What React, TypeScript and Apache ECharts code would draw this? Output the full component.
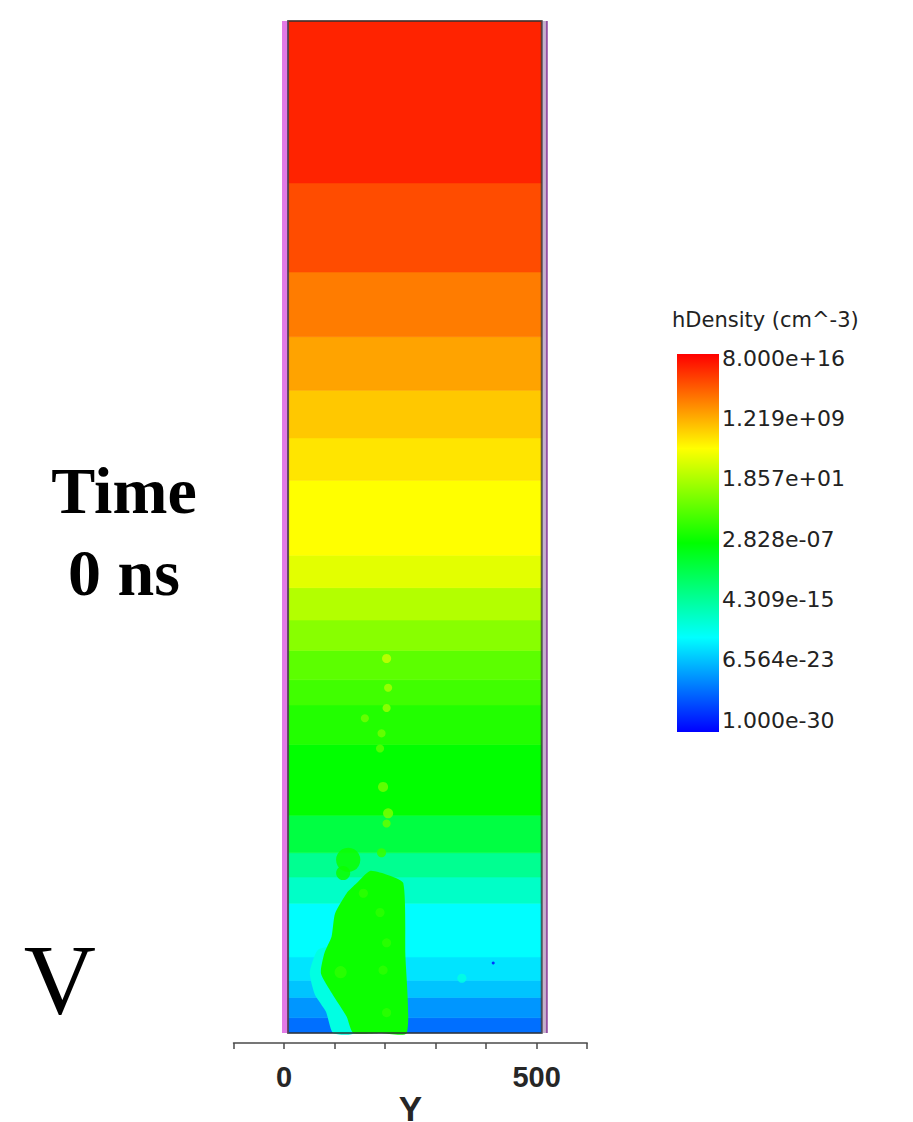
import React, { useEffect, useRef } from 'react';
import * as echarts from 'echarts';

// ---- axis / legend labels ----
const X_LABELED_TICKS = [0, 500];
const COLORBAR_LABELS = ['1.000e-30', '6.564e-23', '4.309e-15', '2.828e-07', '1.857e+01', '1.219e+09', '8.000e+16'];
const LOG_MIN = -30; // log10(1e-30)
const LOG_MAX = 16.903; // log10(8e16)
const COLOR_STOPS = ['#0000ff', '#00ffff', '#00ff00', '#ffff00', '#ff0000'];

// ---- horizontal layers of hole density (bottom -> top) ----
const BAND_EDGES = [0, 15, 35, 52, 75, 128, 154, 178, 215, 285, 324, 349, 378, 408, 440, 472, 546, 588, 635, 688, 752, 840, 1000];
const BAND_LOG_DENSITY = [-24.9, -23.1, -21.0, -19.5, -18.3, -15.7, -13.2, -9.6, -6.5, -5.0, -3.6, -2.3, -0.3, 1.7, 3.9, 5.2, 6.35, 7.7, 9.4, 11.2, 13.4, 15.3];

// ---- plume regions (polygons in data units) ----
const PLUME_HALO = [[97, 0], [83, 21], [61, 38], [51, 60], [67, 82], [101, 84], [131, 33], [140, 0]];
const PLUME_CORE = [[144, 148], [170, 160], [205, 156], [236, 148], [240, 79], [243, 0], [190, 0], [137, 0], [124, 16], [95, 39], [73, 59], [80, 79], [94, 95], [101, 118], [124, 138]];
const PLUME_SHAPES = [PLUME_HALO, PLUME_CORE];
const PLUME_LOG_DENSITY = [-17, -6.0];

// ---- spots ----
const SPOT_X = [127, 117, 203, 206, 203, 160, 193, 190, 196, 206, 203, 193, 157, 190, 203, 196, 203, 112, 352, 414];
const SPOT_Y = [171, 158, 370, 341, 321, 311, 296, 281, 243, 217, 207, 178, 138, 119, 89, 62, 20, 60, 54, 69];
const SPOT_R = [24, 14, 9, 8, 8, 8, 8, 8, 10, 10, 8, 9, 9, 9, 9, 9, 9, 12, 9, 3];
const SPOT_LOG_DENSITY = [-6, -6, 2.5, 1.0, 0.5, -1.5, -1.5, -2.5, -1.5, -1.0, -2, -4, -4.5, -4.5, -4.5, -4.5, -4.5, -4.5, -17.0, -29];

// ---- device structure ----
const DOMAIN_X = [8, 510];
const DOMAIN_Y = [0, 1000];
const REGION_X0 = [-4, 510, 518];
const REGION_X1 = [9, 518, 522];
const REGION_FILL = ['#e27ae6', '#c4b0cc', '#9350a3'];

export default function App() {
  const ref = useRef<HTMLDivElement>(null);

  useEffect(() => {
    if (!ref.current) return;
    const chart = echarts.init(ref.current, undefined, { renderer: 'svg' });

    const bandData = BAND_LOG_DENSITY.map((v, i) => [BAND_EDGES[i], BAND_EDGES[i + 1], v]);
    const plumeData = PLUME_LOG_DENSITY.map((v, i) => [i, 0, v]);
    const spotData = SPOT_X.map((x, i) => [x, SPOT_Y[i], SPOT_LOG_DENSITY[i], SPOT_R[i]]);
    const regionData = REGION_X0.map((x0, i) => [x0, REGION_X1[i]]);

    const option: any = {
      animation: false,
      backgroundColor: '#ffffff',
      visualMap: {
        type: 'continuous',
        show: false,
        min: LOG_MIN,
        max: LOG_MAX,
        dimension: 2,
        seriesIndex: [0, 1, 2],
        inRange: { color: COLOR_STOPS },
      },
      grid: [
        { left: 233.5, top: 21, width: 353.7, height: 1022, containLabel: false, outerBoundsMode: 'none' },
        { left: 677, top: 358, width: 42, height: 362, containLabel: false, outerBoundsMode: 'none' },
      ],
      xAxis: [
        {
          gridIndex: 0,
          type: 'value',
          min: -100,
          max: 600,
          interval: 100,
          splitLine: { show: false },
          axisLine: { show: true, onZero: false, lineStyle: { color: '#4a4a4a', width: 1.5 } },
          axisTick: { show: true, length: 6, lineStyle: { color: '#4a4a4a', width: 1.5 } },
          axisLabel: {
            margin: 19,
            fontFamily: 'Liberation Sans',
            fontWeight: 'bold',
            fontSize: 29,
            color: '#262626',
            formatter: (v: number) => (X_LABELED_TICKS.includes(v) ? String(v) : ''),
          },
          name: 'Y',
          nameLocation: 'middle',
          nameGap: 48,
          nameMoveOverlap: false,
          nameTextStyle: { fontFamily: 'Liberation Sans', fontWeight: 'bold', fontSize: 35, color: '#262626' },
        },
        { gridIndex: 1, type: 'value', min: 0, max: 1, show: false },
      ],
      yAxis: [
        { gridIndex: 0, type: 'value', min: -10, max: 1000, show: false },
        {
          gridIndex: 1,
          type: 'value',
          min: 0,
          max: 6,
          interval: 1,
          position: 'right',
          splitLine: { show: false },
          axisLine: { show: false },
          axisTick: { show: false },
          axisLabel: {
            margin: 3,
            fontFamily: 'DejaVu Sans',
            fontSize: 22,
            color: '#222222',
            formatter: (v: number) => COLORBAR_LABELS[Math.round(v)] ?? '',
          },
        },
      ],
      series: [
        {
          type: 'custom',
          name: 'layers',
          xAxisIndex: 0,
          yAxisIndex: 0,
          clip: false,
          data: bandData,
          renderItem: (params: any, api: any) => {
            const p0 = api.coord([DOMAIN_X[0], api.value(1)]);
            const p1 = api.coord([DOMAIN_X[1], api.value(0)]);
            const c = api.visual('color');
            return {
              type: 'rect',
              shape: { x: p0[0], y: p0[1], width: p1[0] - p0[0], height: p1[1] - p0[1] },
              style: { fill: c, stroke: c, lineWidth: 0.6 },
            };
          },
        },
        {
          type: 'custom',
          name: 'plume',
          xAxisIndex: 0,
          yAxisIndex: 0,
          clip: false,
          data: plumeData,
          renderItem: (params: any, api: any) => {
            const pts = PLUME_SHAPES[params.dataIndex].map((p) => api.coord(p));
            return {
              type: 'polygon',
              shape: { points: pts, smooth: 0.2 },
              style: { fill: api.visual('color') },
            };
          },
        },
        {
          type: 'custom',
          name: 'spots',
          xAxisIndex: 0,
          yAxisIndex: 0,
          clip: false,
          data: spotData,
          renderItem: (params: any, api: any) => {
            const c = api.coord([api.value(0), api.value(1)]);
            const r = api.size([api.value(3), 0])[0];
            return {
              type: 'circle',
              shape: { cx: c[0], cy: c[1], r },
              style: { fill: api.visual('color'), opacity: 0.85 },
            };
          },
        },
        {
          type: 'custom',
          name: 'contacts',
          xAxisIndex: 0,
          yAxisIndex: 0,
          clip: false,
          data: regionData,
          renderItem: (params: any, api: any) => {
            const p0 = api.coord([api.value(0), DOMAIN_Y[1]]);
            const p1 = api.coord([api.value(1), DOMAIN_Y[0]]);
            return {
              type: 'rect',
              shape: { x: p0[0], y: p0[1], width: p1[0] - p0[0], height: p1[1] - p0[1] },
              style: { fill: REGION_FILL[params.dataIndex] },
            };
          },
        },
        {
          type: 'custom',
          name: 'outline',
          xAxisIndex: 0,
          yAxisIndex: 0,
          clip: false,
          data: [[DOMAIN_X[0], DOMAIN_X[1]]],
          renderItem: (params: any, api: any) => {
            const p0 = api.coord([api.value(0), DOMAIN_Y[1]]);
            const p1 = api.coord([api.value(1), DOMAIN_Y[0]]);
            return {
              type: 'rect',
              shape: { x: p0[0], y: p0[1], width: p1[0] - p0[0], height: p1[1] - p0[1] },
              style: { fill: 'none', stroke: 'rgba(50,50,50,0.75)', lineWidth: 2 },
            };
          },
        },
      ],
      graphic: [
        {
          type: 'rect',
          shape: { x: 677, y: 354, width: 42, height: 378 },
          style: {
            fill: {
              type: 'linear',
              x: 0, y: 1, x2: 0, y2: 0,
              colorStops: COLOR_STOPS.map((c, i) => ({ offset: i / (COLOR_STOPS.length - 1), color: c })),
            },
          },
        },
        {
          type: 'text',
          x: 672,
          y: 320,
          style: { text: 'hDensity (cm^-3)', fontFamily: 'DejaVu Sans', fontSize: 21, fill: '#222222', textAlign: 'left', textVerticalAlign: 'middle' },
        },
        {
          type: 'text',
          x: 124,
          y: 490,
          style: { text: 'Time', fontFamily: 'Liberation Serif', fontWeight: 'bold', fontSize: 66, fill: '#000000', textAlign: 'center', textVerticalAlign: 'middle' },
        },
        {
          type: 'text',
          x: 124,
          y: 572,
          style: { text: '0 ns', fontFamily: 'Liberation Serif', fontWeight: 'bold', fontSize: 66, fill: '#000000', textAlign: 'center', textVerticalAlign: 'middle' },
        },
        {
          type: 'text',
          x: 96,
          y: 979,
          style: { text: '0 V', fontFamily: 'Liberation Serif', fontSize: 100, fill: '#000000', textAlign: 'right', textVerticalAlign: 'middle' },
        },
      ],
    };

    chart.setOption(option);
    return () => chart.dispose();
  }, []);

  return <div ref={ref} style={{ position: 'absolute', left: 0, top: 0, width: '913px', height: '1122px' }} />;
}
